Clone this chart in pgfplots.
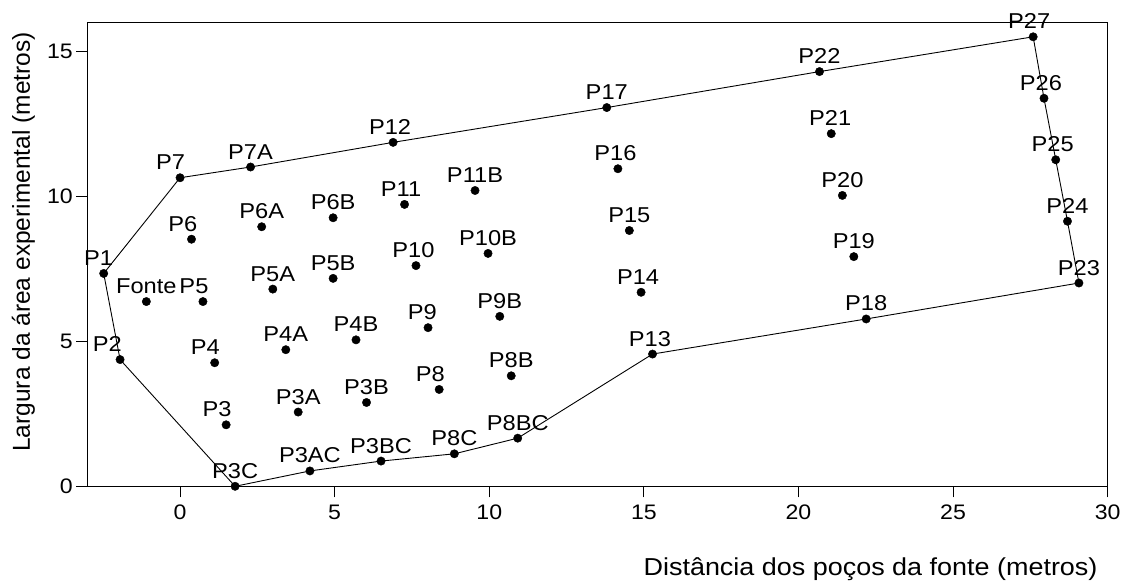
\documentclass[border=0pt]{standalone}
\usepackage{fontspec}
\setmainfont{Liberation Sans}[FakeStretch=1.1]
\newfontfamily\ylabfont{Liberation Sans}
\usepackage{pgfplots}
\pgfplotsset{compat=1.18}
\usepackage{pgfplotstable}

\pgfplotstableread{
name x y dx
P1 -2.47 7.34 -5
P2 -1.94 4.37 -12.8
P3 1.49 2.12 -9
P3C 1.78 0.00 0
P3A 3.82 2.56 0
P3AC 4.20 0.53 0
P3B 6.03 2.89 0
P3BC 6.50 0.87 0
P4 1.12 4.26 -9.3
P4A 3.42 4.71 0
P4B 5.69 5.05 0
P5 0.74 6.37 -9
P5A 3.00 6.80 0
P5B 4.95 7.17 0
P6 0.37 8.52 -8.7
P6A 2.64 8.95 0
P6B 4.95 9.26 0
P7 0.00 10.64 -9.5
P7A 2.28 11.01 0
Fonte -1.09 6.37 0
P8 8.38 3.34 -8.8
P8B 10.71 3.81 0
P8C 8.87 1.12 0
P8BC 10.92 1.66 0
P9 8.02 5.47 -5.8
P9B 10.34 5.86 0
P10 7.63 7.61 -2.5
P10B 9.96 8.03 0
P11 7.26 9.72 -3.5
P11B 9.54 10.20 0
P12 6.89 11.86 -3
P13 15.28 4.56 -2.6
P14 14.91 6.69 -3
P15 14.53 8.82 0
P16 14.16 10.95 -2.5
P17 13.80 13.06 0
P18 22.19 5.77 0
P19 21.79 7.92 0
P20 21.42 10.03 0
P21 21.06 12.16 -1
P22 20.68 14.30 0
P23 29.07 7.01 0
P24 28.70 9.14 0
P25 28.32 11.26 -3
P26 27.94 13.38 -3
P27 27.59 15.50 -4
}\pts

\pgfplotstableread{
x y
-2.47 7.34
0.00 10.64
2.28 11.01
6.89 11.86
13.80 13.06
20.68 14.30
27.59 15.50
27.94 13.38
28.32 11.26
28.70 9.14
29.07 7.01
22.19 5.77
15.28 4.56
10.92 1.66
8.87 1.12
6.50 0.87
4.20 0.53
1.78 0.00
-1.94 4.37
-2.47 7.34
}\hull

\begin{document}
\begin{tikzpicture}
\useasboundingbox (0,0) rectangle (1121pt,587pt);
\begin{axis}[
  at={(87.3pt,100.7pt)}, anchor=south west,
  scale only axis, width=1020.4pt, height=464pt,
  xmin=-3, xmax=30, ymin=0, ymax=16,
  xtick={0,5,10,15,20,25,30}, ytick={0,5,10,15},
  xtick pos=bottom, ytick pos=left,
  tick align=outside, major tick length=11pt,
  tick style={black, line width=0.9pt},
  axis line style={black, line width=0.9pt},
  /pgf/number format/assume math mode=true,
  ticklabel style={font=\fontsize{21}{25}\selectfont},
  xticklabel style={yshift=-4pt},
  xlabel={Distância dos poços da fonte (metros)},
  ylabel={Largura da área experimental (metros)},
  xlabel style={at={(axis description cs:0.9902,-0.1912)}, anchor=base east, inner sep=0pt, font=\fontsize{24.5}{28}\selectfont},
  ylabel style={at={(axis description cs:-0.0627,0.5265)}, anchor=center, inner sep=0pt, font=\ylabfont\fontsize{24.5}{28}\selectfont},
  clip=false,
]
\addplot[black, line width=0.9pt] table[x=x, y=y] {\hull};
\addplot[only marks, mark=*, mark size=4.2pt, black,
  nodes near coords, point meta=explicit symbolic,
  visualization depends on={\thisrow{dx} \as \dx},
  every node near coord/.append style={anchor=base, yshift=8pt, xshift=\dx pt, inner sep=0pt, black, font=\fontsize{21.5}{25}\selectfont}]
  table[x=x, y=y, meta=name] {\pts};
\end{axis}
\end{tikzpicture}
\end{document}
